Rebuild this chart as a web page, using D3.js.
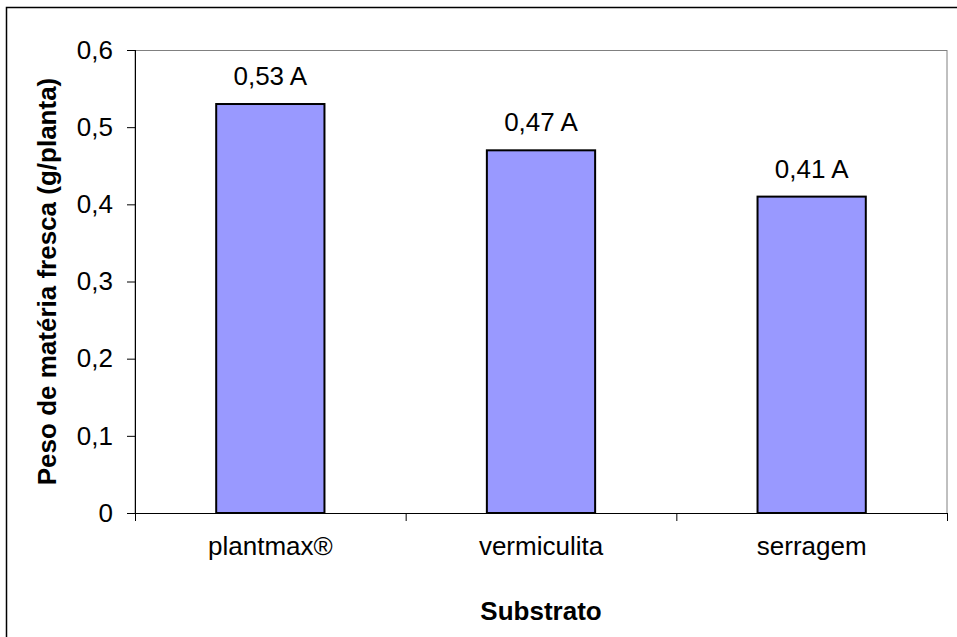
<!DOCTYPE html>
<html>
<head>
<meta charset="utf-8">
<script src="https://cdn.jsdelivr.net/npm/d3@7"></script>
<style>
  body { margin: 0; background: #fff; }
  text { font-family: "Liberation Sans", Arial, sans-serif; fill: #000; }
</style>
</head>
<body>
<div id="chart"></div>
<script>
// data
var categories = ["plantmax®", "vermiculita", "serragem"];
var values = [0.53, 0.47, 0.41];
var letters = ["A", "A", "A"];
var yTicks = [0, 0.1, 0.2, 0.3, 0.4, 0.5, 0.6];

var W = 957, H = 637;
var margin = { top: 50, right: 10, bottom: 124, left: 135 };
var width = W - margin.left - margin.right;
var height = H - margin.top - margin.bottom;
var fs = 26;

var pt = d3.formatLocale({ decimal: ",", thousands: ".", grouping: [3], currency: ["R$", ""] });

var svg = d3.select("#chart")
  .append("svg")
    .attr("width", W)
    .attr("height", H);

// outer chart border
svg.append("rect")
  .attr("x", 6.5)
  .attr("y", 7.5)
  .attr("width", W)
  .attr("height", H)
  .attr("fill", "none")
  .attr("stroke", "#000")
  .attr("stroke-width", 1.5);

var g = svg.append("g")
  .attr("transform", "translate(" + margin.left + "," + margin.top + ")");

var x = d3.scaleBand()
  .domain(categories)
  .range([0, width])
  .paddingInner(0.6)
  .paddingOuter(0.3);

var y = d3.scaleLinear()
  .domain([0, 0.6])
  .range([height, 0]);

// plot area frame
g.append("rect")
  .attr("x", 0)
  .attr("y", 0.5)
  .attr("width", width)
  .attr("height", height)
  .attr("fill", "none")
  .attr("stroke", "#808080")
  .attr("stroke-width", 1);

// bars
g.append("g")
  .selectAll("rect")
  .data(values)
  .enter()
    .append("rect")
    .attr("x", (d, i) => x(categories[i]))
    .attr("y", d => y(d))
    .attr("width", x.bandwidth())
    .attr("height", d => y(0) - y(d))
    .attr("fill", "#9999FF")
    .attr("stroke", "#000")
    .attr("stroke-width", 2);

// Y axis
var yAxis = g.append("g")
  .call(d3.axisLeft(y)
    .tickValues(yTicks)
    .tickSize(8)
    .tickPadding(14)
    .tickFormat(d => d === 0 ? "0" : pt.format(".1f")(d)));
yAxis.select(".domain").attr("stroke", "#000").attr("d", "M0.5,0V" + height);
yAxis.selectAll(".tick line").attr("stroke", "#000");
yAxis.selectAll("text")
  .style("font-size", fs + "px")
  .style("font-family", "Liberation Sans, Arial, sans-serif");

// X axis: labels only, ticks on category boundaries
var xAxis = g.append("g")
  .attr("transform", "translate(0," + height + ")")
  .call(d3.axisBottom(x).tickSize(0).tickPadding(24));
xAxis.select(".domain").attr("stroke", "#000");
xAxis.selectAll("text")
  .style("font-size", fs + "px")
  .style("font-family", "Liberation Sans, Arial, sans-serif");

var bounds = d3.range(categories.length + 1).map(i => i * x.step());
xAxis.selectAll(".bound")
  .data(bounds)
  .enter()
    .append("line")
    .attr("class", "bound")
    .attr("x1", d => d + 0.5)
    .attr("x2", d => d + 0.5)
    .attr("y1", 0)
    .attr("y2", 8)
    .attr("stroke", "#000");

// value labels
g.append("g")
  .selectAll("text")
  .data(values)
  .enter()
    .append("text")
    .attr("x", (d, i) => x(categories[i]) + x.bandwidth() / 2)
    .attr("y", d => y(d) - 19)
    .attr("text-anchor", "middle")
    .style("font-size", fs + "px")
    .text((d, i) => pt.format(".2f")(d) + " " + letters[i]);

// axis titles
svg.append("text")
  .attr("x", margin.left + width / 2)
  .attr("y", 620)
  .attr("text-anchor", "middle")
  .style("font-size", fs + "px")
  .style("font-weight", "bold")
  .text("Substrato");

svg.append("text")
  .attr("transform", "translate(56," + (margin.top + height / 2) + ") rotate(-90)")
  .attr("text-anchor", "middle")
  .style("font-size", fs + "px")
  .style("font-weight", "bold")
  .text("Peso de matéria fresca (g/planta)");
</script>
</body>
</html>
